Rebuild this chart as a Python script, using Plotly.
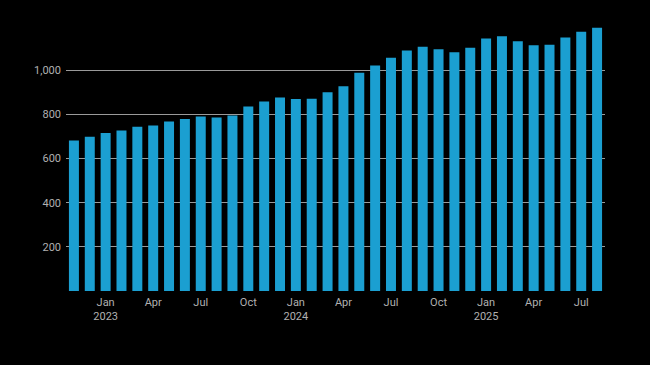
import plotly.graph_objects as go

months = ["2022-11", "2022-12",
          "2023-01", "2023-02", "2023-03", "2023-04", "2023-05", "2023-06",
          "2023-07", "2023-08", "2023-09", "2023-10", "2023-11", "2023-12",
          "2024-01", "2024-02", "2024-03", "2024-04", "2024-05", "2024-06",
          "2024-07", "2024-08", "2024-09", "2024-10", "2024-11", "2024-12",
          "2025-01", "2025-02", "2025-03", "2025-04", "2025-05", "2025-06",
          "2025-07", "2025-08"]
values = [681, 699, 716, 727, 744, 749, 768, 779, 790, 786, 795, 836,
          858, 876, 870, 871, 900, 927, 988, 1021, 1056, 1089, 1106, 1095,
          1081, 1102, 1143, 1154, 1131, 1113, 1115, 1148, 1174, 1192]
tick_vals = ["2023-01", "2023-04", "2023-07", "2023-10", "2024-01", "2024-04",
             "2024-07", "2024-10", "2025-01", "2025-04", "2025-07"]
tick_text = ["Jan<br>2023", "Apr", "Jul", "Oct", "Jan<br>2024", "Apr",
             "Jul", "Oct", "Jan<br>2025", "Apr", "Jul"]
y_ticks = [200, 400, 600, 800, 1000]

fig = go.Figure(go.Bar(x=months, y=values, marker_color="#1b9fd1",
                       marker_line_width=0))

fig.update_layout(
    width=650, height=365,
    paper_bgcolor="black", plot_bgcolor="black",
    margin=dict(l=66, r=45, t=26, b=74),
    bargap=0.37,
    showlegend=False,
    font=dict(family="Roboto, Arial, sans-serif", size=11, color="#b0b0b0"),
)
fig.update_xaxes(type="category", tickmode="array", tickvals=tick_vals,
                 ticktext=tick_text, showgrid=False, showline=False,
                 ticks="", zeroline=False, range=[-0.5, 33.5],
                 ticklabelstandoff=3)
fig.update_yaxes(range=[0, 1200], tickvals=y_ticks, tickformat=",",
                 showgrid=True, gridcolor="#9a9a9a", gridwidth=1,
                 zeroline=False, showline=False, ticks="", ticklabelstandoff=4)

fig.write_html(
    "out.html",
    config={"displayModeBar": False},
    post_script="document.body.style.margin='0';document.body.style.background='black';",
)
